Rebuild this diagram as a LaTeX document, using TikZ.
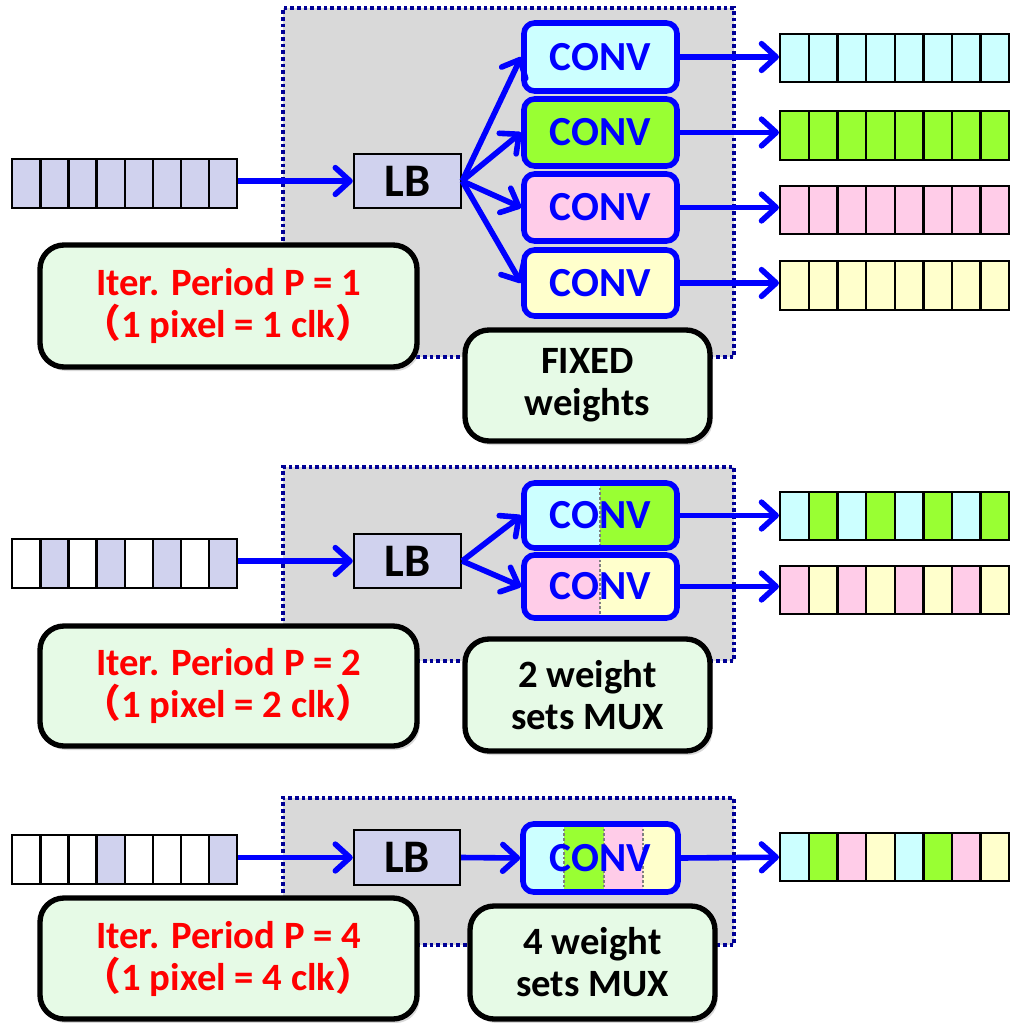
\documentclass[tikz,border=0pt]{standalone}
\usepackage{fontspec}
\setmainfont{Carlito}
\newfontfamily\cjk{Noto Sans CJK SC}
\usetikzlibrary{shadows,arrows.meta}

\definecolor{areagray}{RGB}{217,217,217}
\definecolor{navy}{RGB}{0,0,150}
\definecolor{lav}{RGB}{208,210,238}
\definecolor{noteg}{RGB}{230,250,230}
\definecolor{cyc}{RGB}{204,255,255}
\definecolor{grc}{RGB}{153,255,51}
\definecolor{pkc}{RGB}{255,204,232}
\definecolor{ylc}{RGB}{255,255,204}
\definecolor{flowblue}{RGB}{0,0,255}
\definecolor{itered}{RGB}{255,0,0}

\tikzset{
  % place a node over the box (x1,y1)-(x2,y2), given in 0.75pt units
  spans/.style n args={4}{minimum width={(#3-#1)*0.75pt}, minimum height={(#4-#2)*0.75pt},
    at={({(#1+#3)/2},{(#2+#4)/2})}},
  area/.style={fill=areagray, draw=navy, line width=2.8pt, dash pattern=on 2.8pt off 2.2pt, inner sep=0pt},
  cellbox/.style={draw=black, line width=1.8pt, inner sep=0pt},
  lbbox/.style={draw=black, line width=1.8pt, fill=lav, inner sep=0pt,
    font=\fontsize{35}{38}\selectfont\bfseries},
  convbox/.style={draw=flowblue, line width=4.2pt, rounded corners=8pt, inner sep=0pt,
    text=flowblue, font=\fontsize{31}{34}\selectfont\bfseries},
  note/.style={draw=black, line width=4pt, rounded corners=18pt, fill=noteg, inner sep=0pt,
    align=center, font=\fontsize{29}{31.5}\selectfont\bfseries,
    drop shadow={shadow xshift=2pt, shadow yshift=-3pt, opacity=0.3}},
  iter/.style={note, text=itered},
  flow/.style={draw=flowblue, line width=4.2pt, -{Straight Barb[length=11pt,width=20pt,round]}},
  sep/.style={draw=gray, line width=0.9pt, dash pattern=on 2pt off 1.5pt},
}

% a row of eight pixel cells: name, left x, cell width, top y, bottom y, fills
\newcommand{\pixrow}[6]{%
  \foreach \cl [count=\i from 0] in {#6}
    \node[cellbox, fill=\cl, anchor=north west,
          minimum width={#3*0.75pt}, minimum height={(#5-#4)*0.75pt}]
      (#1-\i) at ({#2+\i*#3},#4) {};
}

\begin{document}
\begin{tikzpicture}[x=0.75pt, y=-0.75pt]
\useasboundingbox (0,0) rectangle (1010,1023);

% ---------- P = 1: four fixed convolution units ----------
\node[area, spans={283}{8}{734}{357}] (g1) {};
\pixrow{in1}{11}{28.125}{158}{207}{lav,lav,lav,lav,lav,lav,lav,lav}
\node[lbbox, spans={354}{154}{461}{208}] (lb1) {LB};
\node[convbox, fill=cyc, spans={524}{23}{677}{91}] (c1a) {CONV};
\node[convbox, fill=grc, spans={524}{99}{677}{166}] (c1b) {CONV};
\node[convbox, fill=pkc, spans={524}{174}{677}{241}] (c1c) {CONV};
\node[convbox, fill=ylc, spans={524}{250}{677}{316}] (c1d) {CONV};
\pixrow{o1a}{779}{28.625}{33}{81}{cyc,cyc,cyc,cyc,cyc,cyc,cyc,cyc}
\pixrow{o1b}{779}{28.625}{110}{159}{grc,grc,grc,grc,grc,grc,grc,grc}
\pixrow{o1c}{779}{28.625}{185}{233}{pkc,pkc,pkc,pkc,pkc,pkc,pkc,pkc}
\pixrow{o1d}{779}{28.625}{260}{309}{ylc,ylc,ylc,ylc,ylc,ylc,ylc,ylc}

\draw[flow] (in1-7.east |- lb1.west) -- (lb1.west);
\foreach \k in {a,b,c,d} {
  \draw[flow] (lb1.east) -- (c1\k.west);
  \draw[flow] (c1\k.east) -- (c1\k.east -| o1\k-0.west);
}

\node[iter, spans={40}{245}{417}{367}] (p1) {Iter. Period P = 1\\{\cjk （}1 pixel = 1 clk{\cjk ）}};
\node[note, spans={465}{330}{710}{441}] (w1) {FIXED\\weights};

% ---------- P = 2: two units, two weight sets each ----------
\node[area, spans={283}{467}{734}{661}] (g2) {};
\pixrow{in2}{11}{28.125}{538}{587}{white,lav,white,lav,white,lav,white,lav}
\node[lbbox, spans={354}{534}{461}{588}] (lb2) {LB};
\begin{scope}
  \clip[rounded corners=8pt] (524,483) rectangle (677,548);
  \fill[cyc] (524,483) rectangle (600,548);
  \fill[grc] (600,483) rectangle (677,548);
  \draw[sep] (600,483) -- (600,548);
\end{scope}
\node[convbox, spans={524}{483}{677}{548}] (c2a) {CONV};
\begin{scope}
  \clip[rounded corners=8pt] (524,555) rectangle (677,618);
  \fill[pkc] (524,555) rectangle (600,618);
  \fill[ylc] (600,555) rectangle (677,618);
  \draw[sep] (600,555) -- (600,618);
\end{scope}
\node[convbox, spans={524}{555}{677}{618}] (c2b) {CONV};
\pixrow{o2a}{779}{28.625}{491}{539}{cyc,grc,cyc,grc,cyc,grc,cyc,grc}
\pixrow{o2b}{779}{28.625}{565}{613}{pkc,ylc,pkc,ylc,pkc,ylc,pkc,ylc}

\draw[flow] (in2-7.east |- lb2.west) -- (lb2.west);
\foreach \k in {a,b} {
  \draw[flow] (lb2.east) -- (c2\k.west);
  \draw[flow] (c2\k.east) -- (c2\k.east -| o2\k-0.west);
}

\node[iter, spans={40}{626}{417}{746}] (p2) {Iter. Period P = 2\\{\cjk （}1 pixel = 2 clk{\cjk ）}};
\node[note, spans={465}{639}{710}{751}] (w2) {2 weight\\sets MUX};

% ---------- P = 4: one unit, four weight sets ----------
\node[area, spans={283}{798}{734}{945}] (g3) {};
\pixrow{in3}{11}{28.125}{834}{883}{white,white,white,lav,white,white,white,lav}
\node[lbbox, spans={354}{830}{460}{885}] (lb3) {LB};
\begin{scope}
  \clip[rounded corners=8pt] (523,824) rectangle (678,892);
  \fill[cyc] (523,824) rectangle (564,892);
  \fill[grc] (564,824) rectangle (604,892);
  \fill[pkc] (604,824) rectangle (643,892);
  \fill[ylc] (643,824) rectangle (678,892);
  \draw[sep] (564,824) -- (564,892);
  \draw[sep] (604,824) -- (604,892);
  \draw[sep] (643,824) -- (643,892);
\end{scope}
\node[convbox, spans={523}{824}{678}{892}] (c3) {CONV};
\pixrow{o3}{779}{28.625}{832}{880}{cyc,grc,pkc,ylc,cyc,grc,pkc,ylc}

\draw[flow] (in3-7.east |- lb3.west) -- (lb3.west);
\draw[flow] (lb3.east) -- (c3.west);
\draw[flow] (c3.east) -- (o3-0.west);

\node[iter, spans={40}{898}{417}{1019}] (p3) {Iter. Period P = 4\\{\cjk （}1 pixel = 4 clk{\cjk ）}};
\node[note, spans={470}{906}{715}{1019}] (w3) {4 weight\\sets MUX};
\end{tikzpicture}
\end{document}
